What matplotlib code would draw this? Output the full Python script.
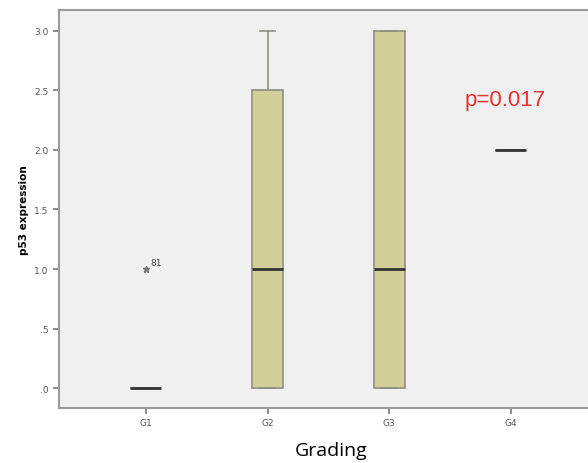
import matplotlib
matplotlib.use('Agg')
import matplotlib.pyplot as plt

# SPSS-style boxplot: p53 expression by grading
groups = ['G1', 'G2', 'G3', 'G4']
medians = [0.0, 1.0, 1.0, 2.0]
q1 = [0.0, 0.0, 0.0, 2.0]
q3 = [0.0, 2.5, 3.0, 2.0]
whis_lo = [0.0, 0.0, 0.0, 2.0]
whis_hi = [0.0, 3.0, 3.0, 2.0]
outliers = [[1.0], [], [], []]
outlier_ids = [['81'], [], [], []]

stats = []
for i in range(len(groups)):
    stats.append(dict(med=medians[i], q1=q1[i], q3=q3[i],
                      whislo=whis_lo[i], whishi=whis_hi[i], fliers=[]))

fig = plt.figure(figsize=(5.88, 4.64), dpi=100)
fig.patch.set_facecolor('white')
ax = fig.add_axes([0.1003, 0.1185, 0.91, 0.8578])
ax.set_facecolor('#f0f0f0')

pos = [1, 2, 3, 4]
edge = '#8f8f82'
ax.bxp(stats, positions=pos, widths=0.255, patch_artist=True, showfliers=False,
       boxprops=dict(facecolor='#d3cf9a', edgecolor=edge, linewidth=1.2),
       medianprops=dict(color='#333333', linewidth=2),
       whiskerprops=dict(color=edge, linewidth=1.2),
       capprops=dict(color=edge, linewidth=1.2),
       capwidths=0.13)

for i, vals in enumerate(outliers):
    for v, lab in zip(vals, outlier_ids[i]):
        ax.plot(pos[i], v, marker='*', color='#777777', markersize=5, linestyle='none')
        ax.annotate(lab, (pos[i], v), xytext=(3, 3), textcoords='offset points',
                    fontsize=6.5, color='#444444')

ax.set_xlim(0.284, 4.687)
ax.set_ylim(-0.167, 3.175)
ax.set_xticks(pos)
ax.set_xticklabels(groups)
ax.set_yticks([0, 0.5, 1.0, 1.5, 2.0, 2.5, 3.0])
ax.set_yticklabels(['.0', '.5', '1.0', '1.5', '2.0', '2.5', '3.0'])
ax.tick_params(axis='both', labelsize=6.5, labelcolor='#555555', color='#777777',
               length=4, width=1.2)

for s in ['left', 'bottom', 'top']:
    ax.spines[s].set_color('#9a9a9a')
    ax.spines[s].set_linewidth(1.5)
ax.spines['right'].set_visible(False)

ax.set_ylabel('p53 expression', fontsize=7.5, fontweight='bold', labelpad=4)
ax.text(0.833, 0.774, 'p=0.017', transform=ax.transAxes, color='#e8312f',
        fontsize=16, family='Liberation Sans', ha='center', va='center')

fig.text(331 / 588, 1 - 451 / 464, 'Grading', fontsize=14, family='Open Sans',
         ha='center', va='center', color='black')

fig.savefig('out.png', dpi=100)
